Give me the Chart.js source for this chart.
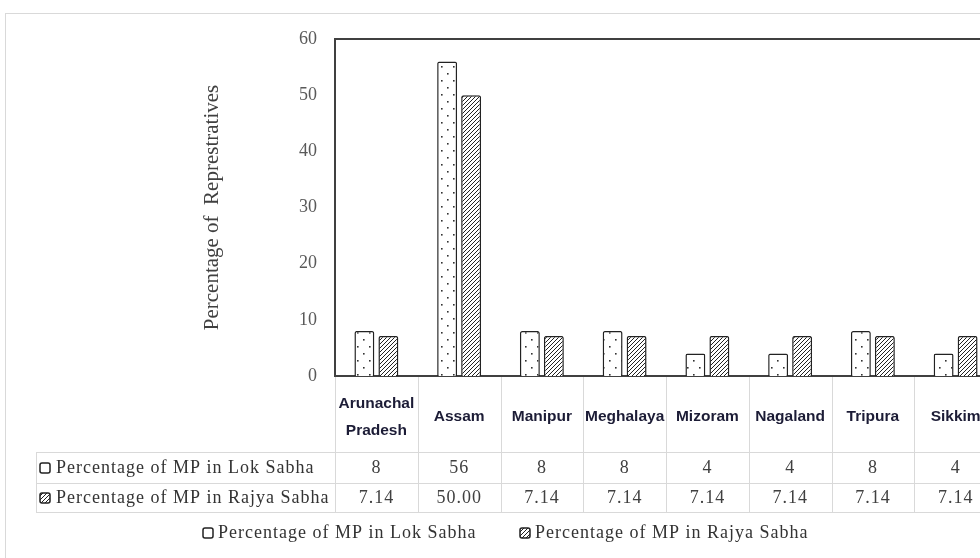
<!DOCTYPE html>
<html>
<head>
<meta charset="utf-8">
<script src="https://cdn.jsdelivr.net/npm/chart.js@4.4.1/dist/chart.umd.min.js"></script>
<style>
  html, body { margin: 0; padding: 0; background: #fff; overflow: hidden; }
  #wrap { width: 980px; height: 558px; overflow: hidden; position: relative; }
  canvas { display: block; }
</style>
</head>
<body>
<div id="wrap"><canvas id="c" width="1060" height="558"></canvas></div>
<script>
// North-east states and their share of Members of Parliament
const states = [['Arunachal', 'Pradesh'], 'Assam', 'Manipur', 'Meghalaya', 'Mizoram', 'Nagaland', 'Tripura', 'Sikkim'];
const lokSabha = [8, 56, 8, 8, 4, 4, 8, 4];
const rajyaSabha = [7.14, 50.00, 7.14, 7.14, 7.14, 7.14, 7.14, 7.14];
const seriesNames = ['Percentage of MP in Lok Sabha', 'Percentage of MP in Rajya Sabha'];
const yTitle = 'Percentage of  Represtratives';
const yMin = 0, yMax = 60, yStep = 10;

const SERIF = '"Liberation Serif", "Times New Roman", serif';
const SANS = '"Liberation Sans", Arial, sans-serif';

// Fill patterns: sparse dots and a diagonal hatch
function makeTile(w, h, paint) {
  const t = document.createElement('canvas');
  t.width = w; t.height = h;
  const g = t.getContext('2d');
  g.fillStyle = '#fff';
  g.fillRect(0, 0, w, h);
  paint(g);
  return g.createPattern(t, 'repeat');
}
const dotFill = makeTile(12, 14, g => {
  g.fillStyle = '#333';
  g.fillRect(3, 3, 1.6, 1.6);
  g.fillRect(9, 10, 1.6, 1.6);
});
const hatchFill = makeTile(4, 4, g => {
  g.strokeStyle = '#222';
  g.lineWidth = 1;
  g.beginPath();
  g.moveTo(0, 4); g.lineTo(4, 0);
  g.moveTo(-1, 1); g.lineTo(1, -1);
  g.moveTo(3, 5); g.lineTo(5, 3);
  g.stroke();
});
const fills = [dotFill, hatchFill];

function legendBox(ctx, x, y, k) {
  ctx.save();
  ctx.beginPath();
  ctx.roundRect(x, y, 10, 10, 2);
  ctx.fillStyle = k === 0 ? '#fff' : fills[k];
  ctx.fill();
  ctx.lineWidth = 1.5;
  ctx.strokeStyle = '#222';
  ctx.stroke();
  ctx.restore();
}

// Frame, data table beneath the categories, and the legend
const tablePlugin = {
  id: 'tablePlugin',
  beforeDraw(chart) {
    const ctx = chart.ctx;
    ctx.save();
    ctx.fillStyle = '#fff';
    ctx.fillRect(0, 0, chart.width, chart.height);
    ctx.strokeStyle = '#d9d9d9';
    ctx.lineWidth = 1;
    ctx.strokeRect(5.5, 13.5, chart.width + 20, chart.height + 20);
    ctx.restore();
  },
  afterDraw(chart) {
    const ctx = chart.ctx;
    const xs = chart.scales.x;
    const area = chart.chartArea;
    const n = states.length;
    const catW = (area.right - area.left) / n;
    const row1Top = 452, row2Top = 483, tableBottom = 512, labelLeft = 36;

    ctx.save();
    // top edge of the plot frame
    ctx.strokeStyle = '#404040';
    ctx.lineWidth = 2;
    ctx.beginPath();
    ctx.moveTo(area.left - 1, area.top);
    ctx.lineTo(chart.width, area.top);
    ctx.stroke();

    // table grid
    ctx.strokeStyle = '#d9d9d9';
    ctx.lineWidth = 1;
    ctx.beginPath();
    [row1Top, row2Top, tableBottom].forEach(y => {
      ctx.moveTo(labelLeft, y + 0.5);
      ctx.lineTo(chart.width, y + 0.5);
    });
    ctx.moveTo(labelLeft + 0.5, row1Top);
    ctx.lineTo(labelLeft + 0.5, tableBottom);
    for (let i = 0; i <= n; i++) {
      const x = Math.round(area.left + i * catW) + 0.5;
      ctx.moveTo(x, area.bottom + 1);
      ctx.lineTo(x, tableBottom);
    }
    ctx.stroke();

    // row headers and values
    ctx.font = '18px ' + SERIF;
    ctx.letterSpacing = '1px';
    ctx.textBaseline = 'middle';
    const rows = [
      { y: (row1Top + row2Top) / 2 + 0.5, vals: lokSabha.map(v => String(v)) },
      { y: (row2Top + tableBottom) / 2 + 0.5, vals: rajyaSabha.map(v => v.toFixed(2)) }
    ];
    rows.forEach((r, k) => {
      legendBox(ctx, 40, r.y - 5, k);
      ctx.fillStyle = '#333';
      ctx.textAlign = 'left';
      ctx.fillText(seriesNames[k], 56, r.y);
      ctx.fillStyle = '#404040';
      ctx.textAlign = 'center';
      r.vals.forEach((t, i) => ctx.fillText(t, xs.getPixelForValue(i), r.y));
    });

    // legend
    const ly = 533;
    [203, 520].forEach((x, k) => {
      legendBox(ctx, x, ly - 5, k);
      ctx.fillStyle = '#333';
      ctx.textAlign = 'left';
      ctx.fillText(seriesNames[k], x + 15, ly);
    });
    ctx.restore();
  }
};

new Chart(document.getElementById('c'), {
  type: 'bar',
  data: {
    labels: states,
    datasets: [
      { label: seriesNames[0], data: lokSabha, backgroundColor: dotFill },
      { label: seriesNames[1], data: rajyaSabha, backgroundColor: hatchFill }
    ]
  },
  options: {
    responsive: false,
    animation: false,
    devicePixelRatio: 1,
    layout: { padding: { left: 0, top: 39, right: 63, bottom: 0 } },
    datasets: {
      bar: {
        borderColor: '#222',
        borderWidth: 1.5,
        borderRadius: 2,
        categoryPercentage: 0.58,
        barPercentage: 0.83
      }
    },
    plugins: {
      legend: { display: false },
      tooltip: { enabled: false }
    },
    scales: {
      x: {
        grid: { display: false, drawTicks: false },
        border: { display: true, color: '#404040', width: 2 },
        ticks: {
          autoSkip: false,
          maxRotation: 0,
          minRotation: 0,
          crossAlign: 'center',
          padding: 28,
          color: '#1c1c36',
          font: { family: SANS, weight: 'bold', size: 15.5, lineHeight: 1.7 }
        },
        afterFit(scale) { scale.height = 182; }
      },
      y: {
        min: yMin,
        max: yMax,
        grid: { display: false, drawTicks: false },
        border: { display: true, color: '#404040', width: 2 },
        ticks: {
          stepSize: yStep,
          padding: 18,
          color: '#595959',
          font: { family: SERIF, size: 18 }
        },
        title: {
          display: true,
          text: yTitle,
          color: '#404040',
          padding: { top: 200, bottom: 0 },
          font: { family: SERIF, size: 21 }
        },
        afterFit(scale) { scale.width = 335; }
      }
    }
  },
  plugins: [tablePlugin]
});
</script>
</body>
</html>
